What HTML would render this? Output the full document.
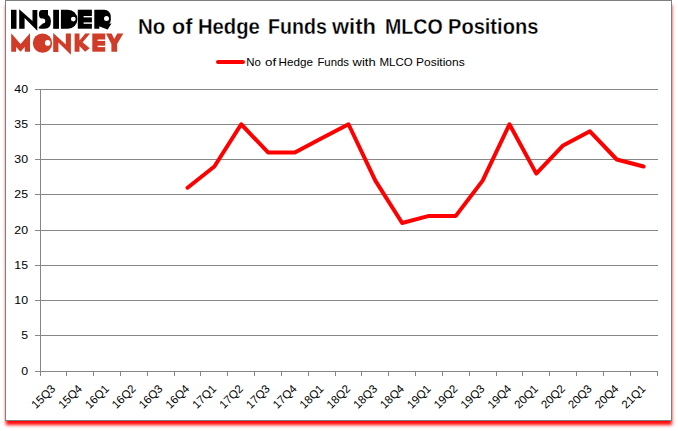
<!DOCTYPE html>
<html><head><meta charset="utf-8"><style>
html,body{margin:0;padding:0;background:#fff;width:678px;height:431px;overflow:hidden}
.box{position:absolute;left:5px;top:0px;width:665px;height:419px;border:1px solid #7f7f7f;background:#fff;box-shadow:0.44px 4.7px 3.26px -0.31px #ff0000}
svg{position:absolute;left:0;top:0}
text{font-family:"Liberation Sans",sans-serif}
.ax{font-size:11px;fill:#000}
.title{font-size:21.8px;font-weight:bold;fill:#000;stroke:#fff;stroke-width:0.3px}
.leg{font-size:11px;fill:#000}
.xl{font-size:11.5px;fill:#000}
</style></head><body>
<div class="box"></div>
<svg width="678" height="431" viewBox="0 0 678 431">
<rect x="11" y="9.8" width="5.5" height="19" fill="#000"/>
<polygon points="19.2,9.3 32.5,21 32.5,10.1 37.3,10.1 37.3,30.7 24.6,18 24.6,28.8 19.2,28.8" fill="#000"/>
<path d="M42,10.1 H48 V14.9 Q50.9,16.5 50.9,21.5 Q50.9,28.8 44.5,28.8 H40.5 Q38.6,28.8 38.6,27.3 L42.8,23.5 Q45.3,23.5 45.3,21.2 Q45.3,18.6 42.8,18.6 Q38.9,18.6 38.9,14.4 Q38.9,10.1 42,10.1 Z" fill="#000"/>
<rect x="53.2" y="9.8" width="5.8" height="19" fill="#000"/>
<path d="M60.9,9.7 H68 A9.4,9.5 0 0 1 68,28.7 H60.9 Z" fill="#000"/><circle cx="73.3" cy="19.1" r="2.4" fill="#fff"/>
<path d="M77.8,9.7 H91.9 V28.7 H77.8 Z" fill="#000"/><rect x="83.6" y="16" width="8.5" height="1.4" fill="#fff"/><rect x="83.6" y="22.4" width="8.5" height="1.4" fill="#fff"/>
<path d="M94.3,9.8 H104.5 A6.3,6.6 0 0 1 110.8,16.4 V19.5 Q110.8,22.3 109.4,23.9 L111.6,23.2 L107.7,29.4 L100.8,27.1 L99.3,26.2 V28.7 H94.3 Z" fill="#000"/><circle cx="106.5" cy="18.6" r="2.5" fill="#fff"/>
<polygon points="11.2,33.2 20.5,43.9 30,33.2 30,51.8 24.8,51.8 24.8,47.1 20.5,51.8 16.1,47.1 16.1,51.8 11.2,51.8" fill="#d03c28"/>
<circle cx="42.5" cy="43.1" r="9.7" fill="#d03c28"/><circle cx="47.7" cy="42.9" r="2.8" fill="#fff"/>
<polygon points="53.2,33.1 65.8,44.6 65.8,33.6 70.9,33.6 70.9,54.7 58.4,42.6 58.4,52.1 53.2,52.1" fill="#d03c28"/>
<polygon points="74.6,33.5 79.5,33.5 79.5,40.5 85.3,33.5 90.1,33.5 82.6,42.3 89.7,48.3 85,51.7 79.5,46 79.5,51.7 74.6,51.7" fill="#d03c28"/>
<path d="M92.3,33.5 H105.2 V51.7 H92.3 Z" fill="#d03c28"/><rect x="97.6" y="39.5" width="7.8" height="1.4" fill="#fff"/><rect x="97.6" y="45.7" width="7.8" height="1.4" fill="#fff"/>
<polygon points="106,33.5 111.6,33.5 114.3,39 117.2,33.5 123.3,33.5 117.1,44 117.1,51.7 111.4,51.7 111.4,44" fill="#d03c28"/>
<rect x="35" y="371" width="623" height="1" fill="#868686"/>
<rect x="35" y="335" width="623" height="1" fill="#868686"/>
<rect x="35" y="300" width="623" height="1" fill="#868686"/>
<rect x="35" y="265" width="623" height="1" fill="#868686"/>
<rect x="35" y="230" width="623" height="1" fill="#868686"/>
<rect x="35" y="194" width="623" height="1" fill="#868686"/>
<rect x="35" y="159" width="623" height="1" fill="#868686"/>
<rect x="35" y="124" width="623" height="1" fill="#868686"/>
<rect x="35" y="89" width="623" height="1" fill="#868686"/>
<rect x="40" y="89" width="1" height="287" fill="#868686"/>
<rect x="40" y="371" width="1" height="5" fill="#868686"/>
<rect x="66" y="371" width="1" height="5" fill="#868686"/>
<rect x="93" y="371" width="1" height="5" fill="#868686"/>
<rect x="120" y="371" width="1" height="5" fill="#868686"/>
<rect x="147" y="371" width="1" height="5" fill="#868686"/>
<rect x="174" y="371" width="1" height="5" fill="#868686"/>
<rect x="200" y="371" width="1" height="5" fill="#868686"/>
<rect x="227" y="371" width="1" height="5" fill="#868686"/>
<rect x="254" y="371" width="1" height="5" fill="#868686"/>
<rect x="281" y="371" width="1" height="5" fill="#868686"/>
<rect x="308" y="371" width="1" height="5" fill="#868686"/>
<rect x="335" y="371" width="1" height="5" fill="#868686"/>
<rect x="361" y="371" width="1" height="5" fill="#868686"/>
<rect x="388" y="371" width="1" height="5" fill="#868686"/>
<rect x="415" y="371" width="1" height="5" fill="#868686"/>
<rect x="442" y="371" width="1" height="5" fill="#868686"/>
<rect x="469" y="371" width="1" height="5" fill="#868686"/>
<rect x="496" y="371" width="1" height="5" fill="#868686"/>
<rect x="522" y="371" width="1" height="5" fill="#868686"/>
<rect x="549" y="371" width="1" height="5" fill="#868686"/>
<rect x="576" y="371" width="1" height="5" fill="#868686"/>
<rect x="603" y="371" width="1" height="5" fill="#868686"/>
<rect x="630" y="371" width="1" height="5" fill="#868686"/>
<rect x="657" y="371" width="1" height="5" fill="#868686"/>
<text transform="translate(28,374.6) scale(1.12,1)" text-anchor="end" class="ax">0</text>
<text transform="translate(28,338.6) scale(1.12,1)" text-anchor="end" class="ax">5</text>
<text transform="translate(28,303.6) scale(1.12,1)" text-anchor="end" class="ax">10</text>
<text transform="translate(28,268.6) scale(1.12,1)" text-anchor="end" class="ax">15</text>
<text transform="translate(28,233.6) scale(1.12,1)" text-anchor="end" class="ax">20</text>
<text transform="translate(28,197.6) scale(1.12,1)" text-anchor="end" class="ax">25</text>
<text transform="translate(28,162.6) scale(1.12,1)" text-anchor="end" class="ax">30</text>
<text transform="translate(28,127.6) scale(1.12,1)" text-anchor="end" class="ax">35</text>
<text transform="translate(28,92.6) scale(1.12,1)" text-anchor="end" class="ax">40</text>
<text transform="translate(56.01,389.4) rotate(-45)" text-anchor="end" class="xl">15Q3</text>
<text transform="translate(82.84,389.4) rotate(-45)" text-anchor="end" class="xl">15Q4</text>
<text transform="translate(109.67,389.4) rotate(-45)" text-anchor="end" class="xl">16Q1</text>
<text transform="translate(136.49,389.4) rotate(-45)" text-anchor="end" class="xl">16Q2</text>
<text transform="translate(163.32,389.4) rotate(-45)" text-anchor="end" class="xl">16Q3</text>
<text transform="translate(190.14,389.4) rotate(-45)" text-anchor="end" class="xl">16Q4</text>
<text transform="translate(216.97,389.4) rotate(-45)" text-anchor="end" class="xl">17Q1</text>
<text transform="translate(243.80,389.4) rotate(-45)" text-anchor="end" class="xl">17Q2</text>
<text transform="translate(270.62,389.4) rotate(-45)" text-anchor="end" class="xl">17Q3</text>
<text transform="translate(297.45,389.4) rotate(-45)" text-anchor="end" class="xl">17Q4</text>
<text transform="translate(324.27,389.4) rotate(-45)" text-anchor="end" class="xl">18Q1</text>
<text transform="translate(351.10,389.4) rotate(-45)" text-anchor="end" class="xl">18Q2</text>
<text transform="translate(377.93,389.4) rotate(-45)" text-anchor="end" class="xl">18Q3</text>
<text transform="translate(404.75,389.4) rotate(-45)" text-anchor="end" class="xl">18Q4</text>
<text transform="translate(431.58,389.4) rotate(-45)" text-anchor="end" class="xl">19Q1</text>
<text transform="translate(458.40,389.4) rotate(-45)" text-anchor="end" class="xl">19Q2</text>
<text transform="translate(485.23,389.4) rotate(-45)" text-anchor="end" class="xl">19Q3</text>
<text transform="translate(512.06,389.4) rotate(-45)" text-anchor="end" class="xl">19Q4</text>
<text transform="translate(538.88,389.4) rotate(-45)" text-anchor="end" class="xl">20Q1</text>
<text transform="translate(565.71,389.4) rotate(-45)" text-anchor="end" class="xl">20Q2</text>
<text transform="translate(592.53,389.4) rotate(-45)" text-anchor="end" class="xl">20Q3</text>
<text transform="translate(619.36,389.4) rotate(-45)" text-anchor="end" class="xl">20Q4</text>
<text transform="translate(646.19,389.4) rotate(-45)" text-anchor="end" class="xl">21Q1</text>
<polyline points="187.54,187.70 214.37,166.55 241.20,124.25 268.02,152.45 294.85,152.45 321.67,138.35 348.50,124.25 375.33,180.65 402.15,222.95 428.98,215.90 455.80,215.90 482.63,180.65 509.46,124.25 536.28,173.60 563.11,145.40 589.93,131.30 616.76,159.50 643.59,166.55" fill="none" stroke="#ff0000" stroke-width="4" stroke-linejoin="round" stroke-linecap="round"/>
<text x="138.00" y="34.2" class="title" textLength="27.39" lengthAdjust="spacingAndGlyphs">No</text>
<text x="172.00" y="34.2" class="title" textLength="20.35" lengthAdjust="spacingAndGlyphs">of</text>
<text x="198.00" y="34.2" class="title" textLength="61.85" lengthAdjust="spacingAndGlyphs">Hedge</text>
<text x="268.00" y="34.2" class="title" textLength="58.79" lengthAdjust="spacingAndGlyphs">Funds</text>
<text x="332.00" y="34.2" class="title" textLength="43.99" lengthAdjust="spacingAndGlyphs">with</text>
<text x="385.00" y="34.2" class="title" textLength="57.65" lengthAdjust="spacingAndGlyphs">MLCO</text>
<text x="448.00" y="34.2" class="title" textLength="90.31" lengthAdjust="spacingAndGlyphs">Positions</text>
<text x="246.20" y="65.7" class="leg" textLength="14.56" lengthAdjust="spacingAndGlyphs">No</text>
<text x="265.00" y="65.7" class="leg" textLength="11.17" lengthAdjust="spacingAndGlyphs">of</text>
<text x="278.60" y="65.7" class="leg" textLength="34.41" lengthAdjust="spacingAndGlyphs">Hedge</text>
<text x="317.40" y="65.7" class="leg" textLength="31.57" lengthAdjust="spacingAndGlyphs">Funds</text>
<text x="352.60" y="65.7" class="leg" textLength="23.06" lengthAdjust="spacingAndGlyphs">with</text>
<text x="379.40" y="65.7" class="leg" textLength="33.28" lengthAdjust="spacingAndGlyphs">MLCO</text>
<text x="416.00" y="65.7" class="leg" textLength="48.63" lengthAdjust="spacingAndGlyphs">Positions</text>
<line x1="218" y1="62" x2="243" y2="62" stroke="#ff0000" stroke-width="4" stroke-linecap="round"/>
</svg>
</body></html>
